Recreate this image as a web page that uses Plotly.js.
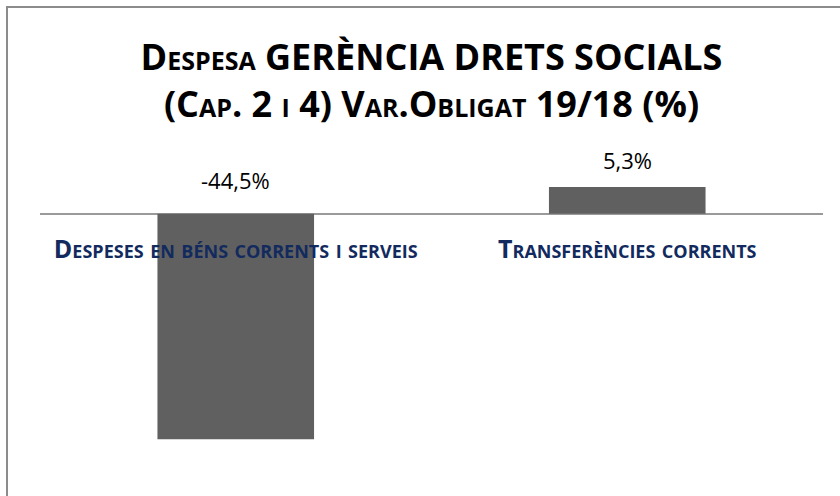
<!DOCTYPE html>
<html>
<head>
<meta charset="utf-8">
<script src="https://cdn.plot.ly/plotly-3.0.1.min.js"></script>
<style>
html,body{margin:0;padding:0;background:#fff;}
#wrap{position:relative;width:840px;height:496px;}
#chart{position:absolute;left:0;top:0;width:840px;height:496px;}
#frame{position:absolute;left:6px;top:6px;right:-4px;bottom:-4px;border-left:2px solid #8c8c8c;border-top:2px solid #8c8c8c;pointer-events:none;}
</style>
</head>
<body>
<div id="wrap"><div id="chart"></div><div id="frame"></div></div>
<script>
const categories = ["Despeses en béns corrents i serveis", "Transferències corrents"];
const values = [-44.5, 5.3];
const titleText = "Despesa GERÈNCIA DRETS SOCIALS<br>(Cap. 2 i 4) Var.Obligat 19/18 (%)";
const yMin = -50, yMax = 12;

const FONT = "'Open Sans', sans-serif";

const fmt = v => v.toFixed(1).replace('.', ',') + '%';

const trace = {
  type: 'bar',
  x: categories,
  y: values,
  marker: {color: '#606060'},
  hoverinfo: 'none'
};

const annotations = values.map((v, i) => ({
  x: categories[i],
  y: Math.max(v, 0),
  xref: 'x', yref: 'y',
  text: fmt(v),
  showarrow: false,
  yanchor: 'bottom',
  yshift: v < 0 ? 17 : 10,
  font: {family: FONT, size: 22, color: '#000'}
}));

const layout = {
  width: 840, height: 496,
  paper_bgcolor: 'rgba(0,0,0,0)',
  plot_bgcolor: 'rgba(0,0,0,0)',
  margin: {l: 40, r: 17, t: 153, b: 29},
  showlegend: false,
  bargap: 0.6,
  title: {
    text: titleText,
    x: 0.5, xanchor: 'center', xref: 'paper',
    y: 1 - 70/496, yanchor: 'top', yref: 'container',
    font: {family: FONT, size: 36, color: '#000', weight: 'bold', variant: 'small-caps'}
  },
  xaxis: {
    anchor: 'free',
    position: (0 - yMin) / (yMax - yMin),
    showline: false, ticks: '', showgrid: false, zeroline: false,
    ticklabelstandoff: 18,
    tickfont: {family: FONT, size: 25, color: '#122a5e', weight: 'bold', variant: 'small-caps'}
  },
  yaxis: {
    range: [yMin, yMax],
    showticklabels: false, showgrid: false, ticks: '',
    zeroline: true, zerolinecolor: '#9a9a9a', zerolinewidth: 2
  },
  annotations: annotations
};

Plotly.newPlot('chart', [trace], layout, {staticPlot: true, displayModeBar: false});
</script>
</body>
</html>
